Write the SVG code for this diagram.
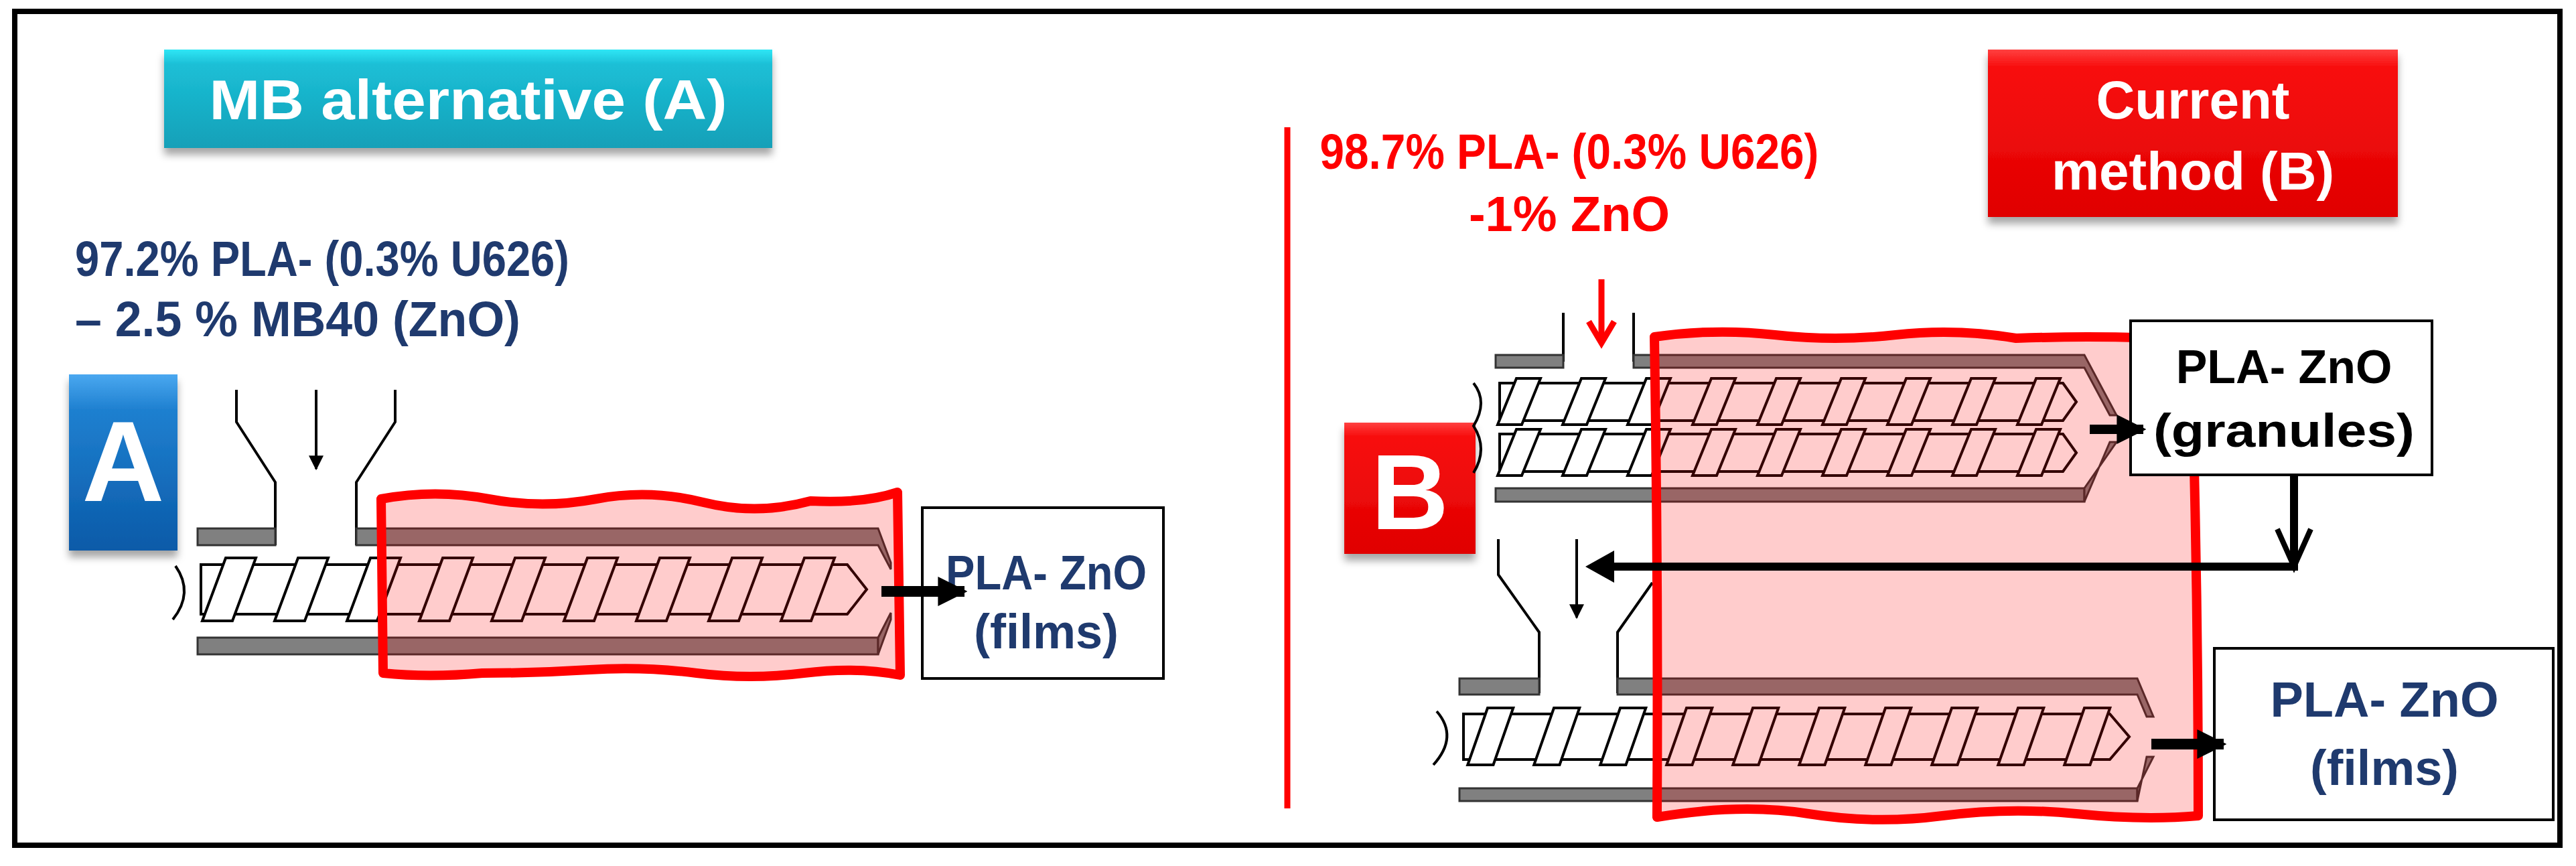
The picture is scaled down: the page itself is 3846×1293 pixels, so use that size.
<svg xmlns="http://www.w3.org/2000/svg" width="3846" height="1293" viewBox="0 0 3846 1293">
<defs>
<linearGradient id="gTeal" x1="0" y1="0" x2="0" y2="1"><stop offset="0" stop-color="#2fe6f5"/><stop offset="0.15" stop-color="#1cbfd6"/><stop offset="1" stop-color="#12a0b8"/></linearGradient>
<linearGradient id="gBlue" x1="0" y1="0" x2="0" y2="1"><stop offset="0" stop-color="#4aa8f0"/><stop offset="0.2" stop-color="#1f80d0"/><stop offset="1" stop-color="#0a5aa8"/></linearGradient>
<linearGradient id="gRed" x1="0" y1="0" x2="0" y2="1"><stop offset="0" stop-color="#ff4040"/><stop offset="0.1" stop-color="#f81010"/><stop offset="1" stop-color="#e00000"/></linearGradient>
<filter id="sh" x="-10%" y="-10%" width="120%" height="140%"><feDropShadow dx="0" dy="10" stdDeviation="6" flood-color="#000" flood-opacity="0.35"/></filter>
<polygon id="fl" points="0,0 45,0 10,100 -35,100" fill="#fff" stroke="#000" stroke-width="4" vector-effect="non-scaling-stroke"/>
<marker id="ah" viewBox="0 0 10 10" refX="9" refY="5" markerUnits="userSpaceOnUse" markerWidth="22" markerHeight="30" orient="auto"><path d="M0,0 L10,5 L0,10 z" fill="#000"/></marker>
<marker id="ahs" viewBox="0 0 10 10" refX="9" refY="5" markerUnits="userSpaceOnUse" markerWidth="44" markerHeight="56" orient="auto"><path d="M0,0 L10,5 L0,10 z" fill="#000"/></marker>
</defs>
<style>
.t{font-family:"Liberation Sans",Arial,sans-serif;font-weight:bold}
.bar{fill:#808080;stroke:#333;stroke-width:3}
.shaft{fill:#fff;stroke:#000;stroke-width:4}
.line{fill:none;stroke:#000;stroke-width:4}
.box{fill:#fff;stroke:#000;stroke-width:4}
.heat{fill:#ff0000;fill-opacity:0.2;stroke:#ff0000;stroke-width:14;stroke-linejoin:round}
</style>
<rect x="0" y="0" width="3846" height="1293" fill="#fff"/>
<rect x="22" y="17" width="3800" height="1245" fill="none" stroke="#000" stroke-width="8"/>

<g id="titleA" filter="url(#sh)"><rect x="245" y="74" width="908" height="147" fill="url(#gTeal)"/>
<text class="t" x="699" y="178" font-size="84" fill="#fff" text-anchor="middle" textLength="773" lengthAdjust="spacingAndGlyphs">MB alternative (A)</text></g>
<g id="labelA"><text class="t" x="112" y="412" font-size="74" fill="#1f3a6e" textLength="738" lengthAdjust="spacingAndGlyphs">97.2% PLA- (0.3% U626)</text>
<text class="t" x="112" y="502" font-size="74" fill="#1f3a6e" textLength="665" lengthAdjust="spacingAndGlyphs">– 2.5 % MB40 (ZnO)</text></g>
<g id="boxA" filter="url(#sh)"><rect x="103" y="559" width="162" height="263" fill="url(#gBlue)"/>
<text class="t" x="184" y="748" font-size="170" fill="#fff" text-anchor="middle">A</text></g>

<g id="extruderA">
<path class="line" d="M353,582 V630 L411,720 V814 M590,582 V630 L532,720 V814"/>
<line x1="472" y1="582" x2="472" y2="700" stroke="#000" stroke-width="4" marker-end="url(#ah)"/>
<rect class="bar" x="295" y="789" width="116" height="25"/>
<polygon class="bar" points="532,789 1311,789 1330,840 1330,850 1311,814 532,814"/>
<rect class="bar" x="295" y="952" width="1016" height="25"/>
<polygon class="bar" points="1311,952 1330,915 1330,925 1311,977"/>
<path class="shaft" d="M300,843 H1265 L1294,880 L1265,917 H300 Z"/>
<g>
<use href="#fl" transform="translate(337,833) scale(1,0.94)"/><use href="#fl" transform="translate(445,833) scale(1,0.94)"/><use href="#fl" transform="translate(553,833) scale(1,0.94)"/><use href="#fl" transform="translate(661,833) scale(1,0.94)"/><use href="#fl" transform="translate(769,833) scale(1,0.94)"/><use href="#fl" transform="translate(877,833) scale(1,0.94)"/><use href="#fl" transform="translate(985,833) scale(1,0.94)"/><use href="#fl" transform="translate(1093,833) scale(1,0.94)"/><use href="#fl" transform="translate(1201,833) scale(1,0.94)"/>
</g>
<path class="line" d="M262,845 Q290,885 258,925"/>
<path class="heat" d="M569,745 Q650,730 730,745 T890,745 T1050,750 T1210,748 Q1290,752 1340,735 L1344,1008 Q1280,995 1200,1005 T1040,1005 T880,1000 T720,1005 Q640,1012 572,1005 Z"/>
</g>

<g id="filmsA"><rect class="box" x="1377" y="758" width="360" height="255"/>
<text class="t" x="1562" y="880" font-size="72" fill="#1f3a6e" text-anchor="middle" textLength="300" lengthAdjust="spacingAndGlyphs">PLA- ZnO</text>
<text class="t" x="1562" y="968" font-size="72" fill="#1f3a6e" text-anchor="middle">(films)</text></g>

<g id="divider"><line x1="1922" y1="190" x2="1922" y2="1207" stroke="#ff0000" stroke-width="9"/></g>

<g id="titleB" filter="url(#sh)"><rect x="2968" y="74" width="612" height="250" fill="url(#gRed)"/>
<text class="t" x="3274" y="177" font-size="80" fill="#fff" text-anchor="middle">Current</text>
<text class="t" x="3274" y="283" font-size="80" fill="#fff" text-anchor="middle">method (B)</text></g>
<g id="labelB"><text class="t" x="2343" y="252" font-size="74" fill="#ff0000" text-anchor="middle" textLength="745" lengthAdjust="spacingAndGlyphs">98.7% PLA- (0.3% U626)</text>
<text class="t" x="2343" y="345" font-size="74" fill="#ff0000" text-anchor="middle">-1% ZnO</text></g>
<g id="boxB" filter="url(#sh)"><rect x="2007" y="631" width="196" height="196" fill="url(#gRed)"/>
<text class="t" x="2105" y="790" font-size="160" fill="#fff" text-anchor="middle">B</text></g>

<g id="extruderB1">
<path class="line" d="M2334,467 V540 M2439,467 V540"/>
<line x1="2391" y1="417" x2="2391" y2="505" stroke="#ff0000" stroke-width="9"/>
<path d="M2372,480 L2391,512 L2410,480" fill="none" stroke="#ff0000" stroke-width="9"/>
<rect class="bar" x="2233" y="530" width="101" height="19"/>
<polygon class="bar" points="2439,530 3112,530 3160,620 3150,620 3112,549 2439,549"/>
<rect class="bar" x="2233" y="729" width="879" height="20"/>
<polygon class="bar" points="3112,749 3150,660 3160,660 3112,729"/>
<path class="shaft" d="M2239,572 H3080 L3100,600 L3080,628 H2239 Z"/>
<path class="shaft" d="M2239,648 H3080 L3100,676 L3080,704 H2239 Z"/>
<g>
<use href="#fl" transform="translate(2264,565) scale(0.8,0.69)"/><use href="#fl" transform="translate(2361,565) scale(0.8,0.69)"/><use href="#fl" transform="translate(2458,565) scale(0.8,0.69)"/><use href="#fl" transform="translate(2555,565) scale(0.8,0.69)"/><use href="#fl" transform="translate(2652,565) scale(0.8,0.69)"/><use href="#fl" transform="translate(2749,565) scale(0.8,0.69)"/><use href="#fl" transform="translate(2846,565) scale(0.8,0.69)"/><use href="#fl" transform="translate(2943,565) scale(0.8,0.69)"/><use href="#fl" transform="translate(3040,565) scale(0.8,0.69)"/>
<use href="#fl" transform="translate(2264,641) scale(0.8,0.69)"/><use href="#fl" transform="translate(2361,641) scale(0.8,0.69)"/><use href="#fl" transform="translate(2458,641) scale(0.8,0.69)"/><use href="#fl" transform="translate(2555,641) scale(0.8,0.69)"/><use href="#fl" transform="translate(2652,641) scale(0.8,0.69)"/><use href="#fl" transform="translate(2749,641) scale(0.8,0.69)"/><use href="#fl" transform="translate(2846,641) scale(0.8,0.69)"/><use href="#fl" transform="translate(2943,641) scale(0.8,0.69)"/><use href="#fl" transform="translate(3040,641) scale(0.8,0.69)"/>
</g>
<path class="line" d="M2200,572 Q2222,600 2200,636 Q2222,670 2200,706"/>
</g>

<g id="extruderB2">
<path class="line" d="M2237,805 V858 L2298,944 V1035 M2467,870 L2415,944 V1035"/>
<line x1="2354" y1="805" x2="2354" y2="922" stroke="#000" stroke-width="4" marker-end="url(#ah)"/>
<rect class="bar" x="2179" y="1013" width="119" height="24"/>
<polygon class="bar" points="2415,1013 3191,1013 3215,1070 3205,1070 3191,1037 2415,1037"/>
<rect class="bar" x="2179" y="1177" width="1012" height="19"/>
<polygon class="bar" points="3191,1196 3205,1130 3215,1130 3191,1177"/>
<path class="shaft" d="M2185,1066 H3150 L3179,1100 L3150,1134 H2185 Z"/>
<g>
<use href="#fl" transform="translate(2221,1057) scale(0.85,0.85)"/><use href="#fl" transform="translate(2320,1057) scale(0.85,0.85)"/><use href="#fl" transform="translate(2419,1057) scale(0.85,0.85)"/><use href="#fl" transform="translate(2518,1057) scale(0.85,0.85)"/><use href="#fl" transform="translate(2617,1057) scale(0.85,0.85)"/><use href="#fl" transform="translate(2716,1057) scale(0.85,0.85)"/><use href="#fl" transform="translate(2815,1057) scale(0.85,0.85)"/><use href="#fl" transform="translate(2914,1057) scale(0.85,0.85)"/><use href="#fl" transform="translate(3013,1057) scale(0.85,0.85)"/><use href="#fl" transform="translate(3112,1057) scale(0.85,0.85)"/>
</g>
<path class="line" d="M2145,1062 Q2178,1100 2140,1142"/>
</g>

<path class="heat" id="heatB" d="M2470,503 Q2560,490 2650,500 T2830,500 T3010,505 Q3150,500 3282,508 L3276,700 Q3282,960 3282,1218 Q3200,1225 3100,1215 T2900,1218 T2700,1215 T2474,1220 Q2476,860 2470,503 Z"/>

<g id="granules"><rect class="box" x="3181" y="479" width="450" height="230"/>
<text class="t" x="3410" y="572" font-size="70" fill="#000" text-anchor="middle">PLA- ZnO</text>
<text class="t" x="3410" y="667" font-size="70" fill="#000" text-anchor="middle" textLength="390" lengthAdjust="spacingAndGlyphs">(granules)</text></g>
<g id="filmsB"><rect class="box" x="3306" y="968" width="506" height="256"/>
<text class="t" x="3560" y="1070" font-size="74" fill="#1f3a6e" text-anchor="middle">PLA- ZnO</text>
<text class="t" x="3560" y="1172" font-size="74" fill="#1f3a6e" text-anchor="middle">(films)</text></g>

<g id="connectors">
<line x1="1316" y1="883" x2="1440" y2="883" stroke="#000" stroke-width="16" marker-end="url(#ahs)"/>
<line x1="3120" y1="641" x2="3200" y2="641" stroke="#000" stroke-width="14" marker-end="url(#ahs)"/>
<path d="M3425,709 V846 H2400" fill="none" stroke="#000" stroke-width="12"/>
<path d="M3400,790 L3425,846 L3450,790" fill="none" stroke="#000" stroke-width="8"/>
<polygon points="2367,846 2410,822 2410,870" fill="#000"/>
<line x1="3212" y1="1111" x2="3320" y2="1111" stroke="#000" stroke-width="16" marker-end="url(#ahs)"/>
</g>
</svg>
